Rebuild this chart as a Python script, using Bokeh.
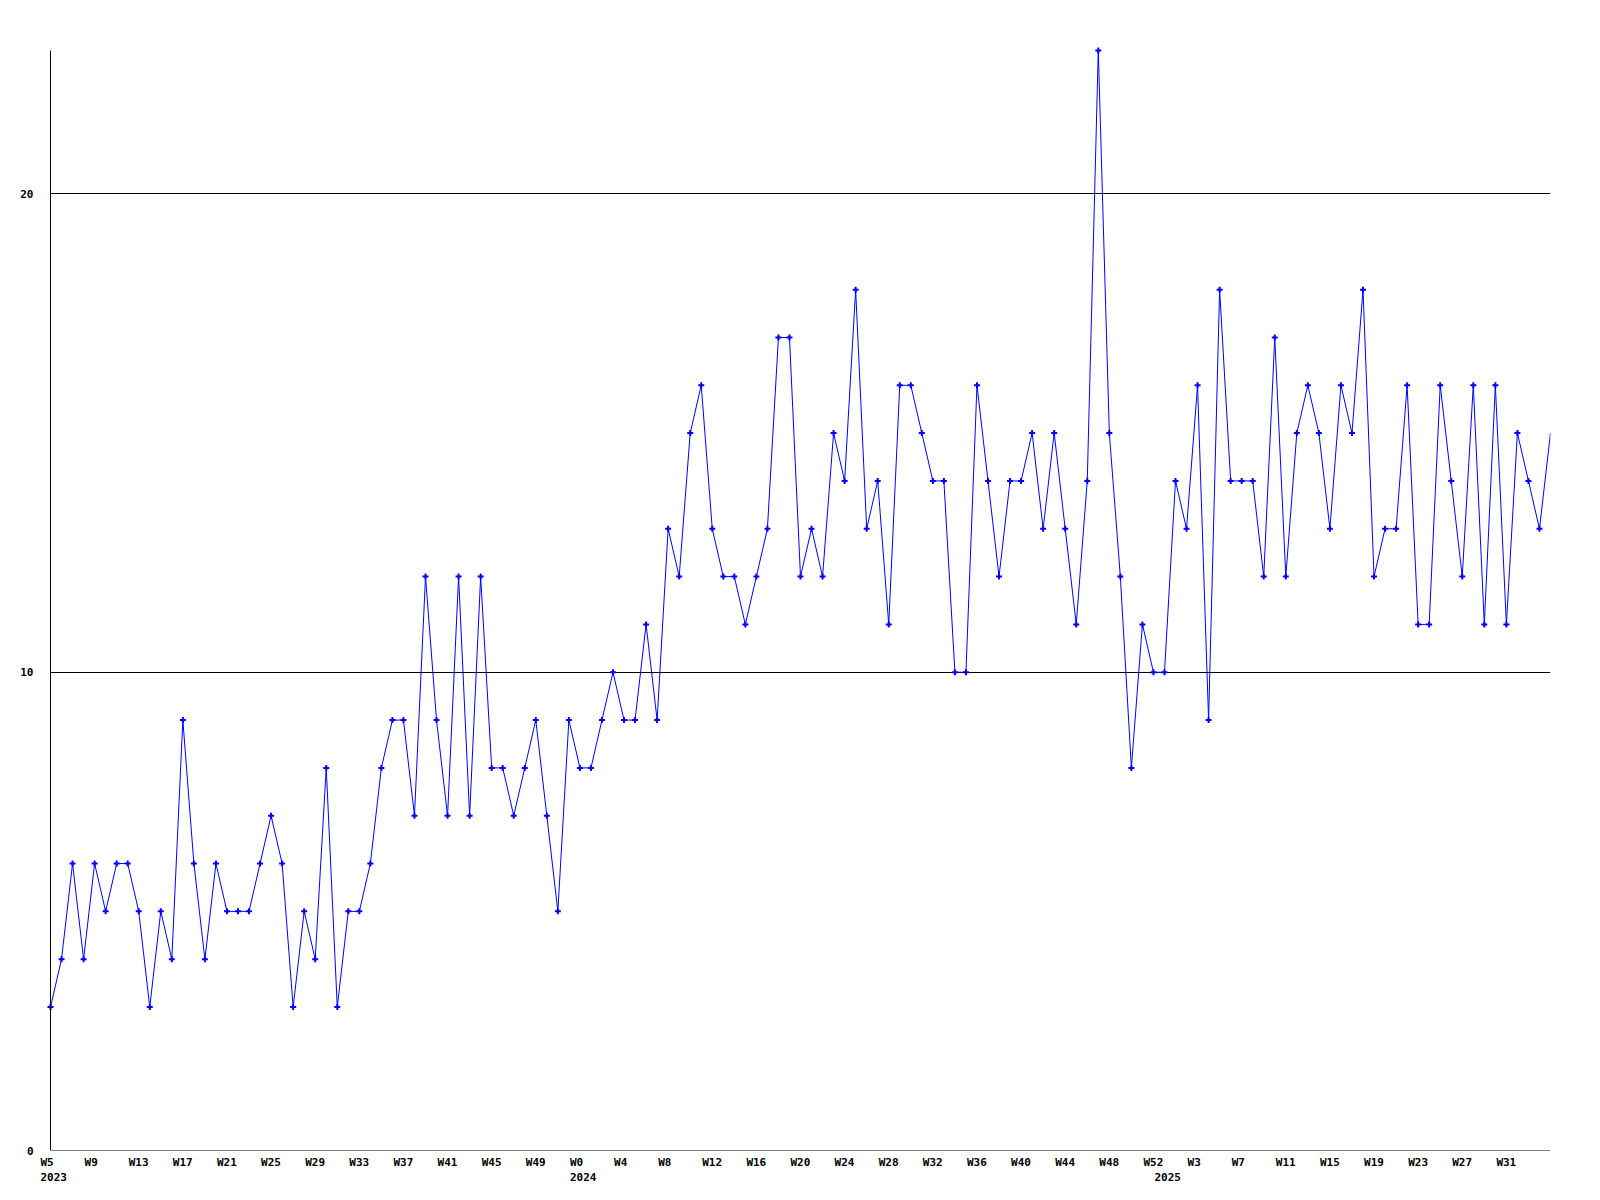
from bokeh.plotting import figure
from bokeh.models import (ColumnDataSource, Range1d, FixedTicker, LinearAxis,
                          CDSView, IndexFilter)
from bokeh.embed import file_html
from bokeh.resources import INLINE

# ---- data ----
years = [2023, 2024, 2025]
first_week = [5, 0, 0]
last_week = [52, 52, 35]

values_2023 = [3, 4, 6, 4, 6, 5, 6, 6, 5, 3, 5, 4, 9, 6, 4, 6, 5, 5, 5, 6,
               7, 6, 3, 5, 4, 8, 3, 5, 5, 6, 8, 9, 9, 7, 12, 9, 7, 12, 7, 12,
               8, 8, 7, 8, 9, 7, 5, 9]
values_2024 = [8, 8, 9, 10, 9, 9, 11, 9, 13, 12, 15, 16, 13, 12, 12, 11, 12, 13, 17, 17,
               12, 13, 12, 15, 14, 18, 13, 14, 11, 16, 16, 15, 14, 14, 10, 10, 16, 14, 12, 14,
               14, 15, 13, 15, 13, 11, 14, 23, 15, 12, 8, 11, 10]
values_2025 = [10, 14, 13, 16, 9, 18, 14, 14, 14, 12, 17, 12, 15, 16, 15, 13, 16, 15, 18, 12,
               13, 13, 16, 11, 11, 16, 14, 12, 16, 11, 16, 11, 15, 14, 13, 15]

y_tick_values = [0, 10, 20]
y_tick_labels = ["0", "10", "20"]

# ---- build categories ----
week_labels = []
year_of = []
for yr, w0, w1 in zip(years, first_week, last_week):
    for w in range(w0, w1 + 1):
        week_labels.append(f"W{w}")
        year_of.append(yr)
values = values_2023 + values_2024 + values_2025
idx = list(range(len(values)))
n = len(values)

tick_idx = idx[::4]
tick_text = [week_labels[i] for i in tick_idx]
tick_idx = tick_idx[:-1] if tick_idx[-1] > n - 3 else tick_idx   # last one dropped near edge
tick_text = tick_text[:len(tick_idx)]

year_idx = [year_of.index(y) for y in years]
year_text = [str(y) for y in years]

# ---- geometry / style ----
FONT = "DejaVu Sans Mono"
FSIZE = "11px"
CHAR_W = 6.62          # advance of an 11px DejaVu Sans Mono glyph
BLUE = "#0000ff"
W, H = 1592, 1192
FRAME_L, FRAME_R, FRAME_T, FRAME_B = 45, 1550, 43, 1150
X_AXIS_START_PX = 50   # where x index 0 sits
ppu = (FRAME_R - X_AXIS_START_PX) / (n - 1)
x_start = -(X_AXIS_START_PX - FRAME_L) / ppu
y_top = 23
ppy = (FRAME_B - 50) / y_top
y_end = (FRAME_B - FRAME_T) / ppy

p = figure(width=W, height=H, output_backend="svg", toolbar_location=None,
           x_range=Range1d(x_start, n - 1), y_range=Range1d(0, y_end),
           x_axis_location=None, y_axis_location=None,
           min_border_left=FRAME_L, min_border_right=W - FRAME_R,
           min_border_top=FRAME_T, min_border_bottom=H - FRAME_B,
           background_fill_color="white", border_fill_color="white")
p.outline_line_color = None


def label_axis(ticks, overrides, standoff):
    ax = LinearAxis(ticker=FixedTicker(ticks=ticks), major_label_overrides=overrides,
                    major_label_standoff=standoff, axis_line_color=None,
                    major_tick_line_color=None, minor_tick_line_color=None,
                    major_tick_out=0, major_tick_in=0, minor_tick_out=0, minor_tick_in=0,
                    major_label_text_font=FONT, major_label_text_font_style="bold",
                    major_label_text_font_size=FSIZE, major_label_text_color="black")
    return ax


# week labels: text starts 10px left of its tick
def shifted(i, t):
    return round(i + (-10 + len(t) * CHAR_W / 2) / ppu, 4)


wk_pos = [shifted(i, t) for i, t in zip(tick_idx, tick_text)]
yr_pos = [shifted(i, t) for i, t in zip(year_idx, year_text)]
p.add_layout(label_axis(wk_pos, dict(zip(wk_pos, tick_text)), 5), "below")
p.add_layout(label_axis(yr_pos, dict(zip(yr_pos, year_text)), 1), "below")
p.add_layout(label_axis(y_tick_values, dict(zip(y_tick_values, y_tick_labels)), 12), "left")

# axis lines at x=0 / y=0
for side, bounds in (("below", (0, n - 1)), ("left", (0, y_top))):
    ax = LinearAxis(ticker=FixedTicker(ticks=[]), fixed_location=0, bounds=bounds,
                    axis_line_color="black", axis_line_width=1,
                    major_tick_line_color=None, minor_tick_line_color=None,
                    major_label_text_font_size="0px")
    p.add_layout(ax, side)

p.xgrid.visible = False
p.ygrid.ticker = FixedTicker(ticks=[10, 20])
p.ygrid.grid_line_color = "black"
p.ygrid.grid_line_alpha = 1.0
p.ygrid.grid_line_width = 1
p.ygrid.cross_bounds = (0, n - 1)

src = ColumnDataSource(dict(x=idx, y=values))
p.line("x", "y", source=src, line_color=BLUE, line_width=1)
view = CDSView(filter=IndexFilter(list(range(n - 1))))
p.scatter("x", "y", source=src, view=view, marker="cross", size=6,
          line_color=BLUE, line_width=2)

open("out.html", "w").write(file_html(p, INLINE))
